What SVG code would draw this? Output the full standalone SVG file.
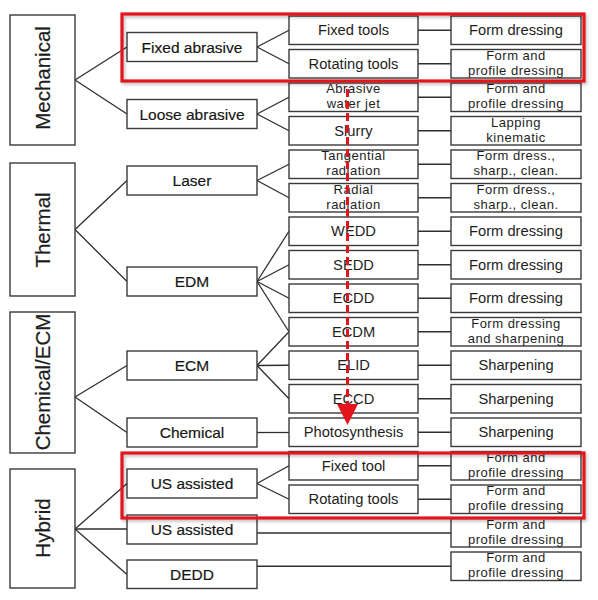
<svg xmlns="http://www.w3.org/2000/svg" width="598" height="600" viewBox="0 0 598 600">
<defs>
<style>
.box{fill:#fff;stroke:#3a3a3a;stroke-width:1.4}
.t{font-family:"Liberation Sans",Arial,sans-serif;fill:#1e1e1e;text-anchor:middle}
.l1{font-size:20.5px;stroke:#1e1e1e;stroke-width:0.2}
.l2{font-size:15.5px;fill:#161616;stroke:#161616;stroke-width:0.18}
.l3{font-size:14.7px}
.l4{font-size:13px;letter-spacing:0.5px}
.con line{stroke:#2e2e2e;stroke-width:1.3;fill:none}
.hl{fill:none;stroke:#e3141c;stroke-width:3.2}
</style>
<filter id="sh" x="-5%" y="-10%" width="110%" height="130%">
<feDropShadow dx="1.5" dy="2" stdDeviation="1.5" flood-color="#000" flood-opacity="0.25"/>
</filter>
</defs>
<rect width="598" height="600" fill="#fff"/>

<g id="connectors" class="con">
<line x1="75" y1="80" x2="127" y2="47"/>
<line x1="75" y1="80" x2="127" y2="114"/>
<line x1="75" y1="229.5" x2="127" y2="180.5"/>
<line x1="75" y1="229.5" x2="127" y2="281.5"/>
<line x1="75" y1="397" x2="127" y2="365.5"/>
<line x1="75" y1="397" x2="127" y2="432.5"/>
<line x1="75" y1="529" x2="127" y2="483.5"/>
<line x1="75" y1="529" x2="127" y2="529"/>
<line x1="75" y1="529" x2="127" y2="574.5"/>
<line x1="257" y1="47" x2="289" y2="30.25"/>
<line x1="257" y1="47" x2="289" y2="63.75"/>
<line x1="257" y1="114" x2="289" y2="97.25"/>
<line x1="257" y1="114" x2="289" y2="130.75"/>
<line x1="257" y1="180.5" x2="289" y2="164.25"/>
<line x1="257" y1="180.5" x2="289" y2="197.75"/>
<line x1="257" y1="281.5" x2="289" y2="231.25"/>
<line x1="257" y1="281.5" x2="289" y2="264.75"/>
<line x1="257" y1="281.5" x2="289" y2="298.25"/>
<line x1="257" y1="281.5" x2="289" y2="331.75"/>
<line x1="257" y1="365.5" x2="289" y2="331.75"/>
<line x1="257" y1="365.5" x2="289" y2="365.25"/>
<line x1="257" y1="365.5" x2="289" y2="398.75"/>
<line x1="257" y1="432.5" x2="289" y2="432.5"/>
<line x1="257" y1="483.5" x2="289" y2="465.75"/>
<line x1="257" y1="483.5" x2="289" y2="499.25"/>
<line x1="257" y1="533" x2="451" y2="533"/>
<line x1="257" y1="566.25" x2="451" y2="566.25"/>
<line x1="418" y1="30.25" x2="451" y2="30.25"/>
<line x1="418" y1="63.75" x2="451" y2="63.75"/>
<line x1="418" y1="97.25" x2="451" y2="97.25"/>
<line x1="418" y1="130.75" x2="451" y2="130.75"/>
<line x1="418" y1="164.25" x2="451" y2="164.25"/>
<line x1="418" y1="197.75" x2="451" y2="197.75"/>
<line x1="418" y1="231.25" x2="451" y2="231.25"/>
<line x1="418" y1="264.75" x2="451" y2="264.75"/>
<line x1="418" y1="298.25" x2="451" y2="298.25"/>
<line x1="418" y1="331.75" x2="451" y2="331.75"/>
<line x1="418" y1="365.25" x2="451" y2="365.25"/>
<line x1="418" y1="398.75" x2="451" y2="398.75"/>
<line x1="418" y1="432.25" x2="451" y2="432.25"/>
<line x1="418" y1="465.75" x2="451" y2="465.75"/>
<line x1="418" y1="499.25" x2="451" y2="499.25"/>
</g>

<!-- Level 1 -->
<g id="mechanical"><rect class="box" x="10" y="15" width="65" height="130"/><text class="t l1" transform="translate(50,78) rotate(-90)">Mechanical</text></g>
<g id="thermal"><rect class="box" x="10" y="163" width="65" height="133"/><text class="t l1" transform="translate(50,230) rotate(-90)">Thermal</text></g>
<g id="chemical-ecm"><rect class="box" x="10" y="312" width="65" height="141"/><text class="t l1" transform="translate(50,382) rotate(-90)">Chemical/ECM</text></g>
<g id="hybrid"><rect class="box" x="10" y="469" width="65" height="119"/><text class="t l1" transform="translate(50,528) rotate(-90)">Hybrid</text></g>

<!-- Level 2 -->
<g id="fixed-abrasive"><rect class="box" x="127" y="32.5" width="130" height="29"/><text class="t l2" x="192" y="52.5">Fixed abrasive</text></g>
<g id="loose-abrasive"><rect class="box" x="127" y="99.5" width="130" height="29"/><text class="t l2" x="192" y="119.5">Loose abrasive</text></g>
<g id="laser"><rect class="box" x="127" y="166" width="130" height="29"/><text class="t l2" x="192" y="186">Laser</text></g>
<g id="edm"><rect class="box" x="127" y="267" width="130" height="29"/><text class="t l2" x="192" y="287">EDM</text></g>
<g id="ecm"><rect class="box" x="127" y="351" width="130" height="29"/><text class="t l2" x="192" y="371">ECM</text></g>
<g id="chemical"><rect class="box" x="127" y="418" width="130" height="29"/><text class="t l2" x="192" y="438">Chemical</text></g>
<g id="us-assisted-1"><rect class="box" x="127" y="469" width="130" height="29"/><text class="t l2" x="192" y="489">US assisted</text></g>
<g id="us-assisted-2"><rect class="box" x="127" y="515" width="130" height="29"/><text class="t l2" x="192" y="535">US assisted</text></g>
<g id="dedd"><rect class="box" x="127" y="560" width="130" height="28.5"/><text class="t l2" x="192" y="580">DEDD</text></g>

<!-- Level 3 -->
<g id="fixed-tools"><rect class="box" x="289" y="16" width="129" height="28.5"/><text class="t l3" x="353.5" y="35.3">Fixed tools</text></g>
<g id="rotating-tools-1"><rect class="box" x="289" y="49.5" width="129" height="28.5"/><text class="t l3" x="353.5" y="68.8">Rotating tools</text></g>
<g id="abrasive-water-jet"><rect class="box" x="289" y="83" width="129" height="28.5"/><text class="t l4" x="353.5" y="93.2">Abrasive</text><text class="t l4" x="353.5" y="108.2">water jet</text></g>
<g id="slurry"><rect class="box" x="289" y="116.5" width="129" height="28.5"/><text class="t l3" x="353.5" y="135.8">Slurry</text></g>
<g id="tangential-radiation"><rect class="box" x="289" y="150" width="129" height="28.5"/><text class="t l4" x="353.5" y="160.2">Tangential</text><text class="t l4" x="353.5" y="175.2">radiation</text></g>
<g id="radial-radiation"><rect class="box" x="289" y="183.5" width="129" height="28.5"/><text class="t l4" x="353.5" y="193.7">Radial</text><text class="t l4" x="353.5" y="208.7">radiation</text></g>
<g id="wedd"><rect class="box" x="289" y="217" width="129" height="28.5"/><text class="t l3" x="353.5" y="236.3">WEDD</text></g>
<g id="sedd"><rect class="box" x="289" y="250.5" width="129" height="28.5"/><text class="t l3" x="353.5" y="269.8">SEDD</text></g>
<g id="ecdd"><rect class="box" x="289" y="284" width="129" height="28.5"/><text class="t l3" x="353.5" y="303.3">ECDD</text></g>
<g id="ecdm"><rect class="box" x="289" y="317.5" width="129" height="28.5"/><text class="t l3" x="353.5" y="336.8">ECDM</text></g>
<g id="elid"><rect class="box" x="289" y="351" width="129" height="28.5"/><text class="t l3" x="353.5" y="370.3">ELID</text></g>
<g id="eccd"><rect class="box" x="289" y="384.5" width="129" height="28.5"/><text class="t l3" x="353.5" y="403.8">ECCD</text></g>
<g id="photosynthesis"><rect class="box" x="289" y="418" width="129" height="28.5"/><text class="t l3" x="353.5" y="437.3">Photosynthesis</text></g>
<g id="fixed-tool"><rect class="box" x="289" y="451.5" width="129" height="28.5"/><text class="t l3" x="353.5" y="470.8">Fixed tool</text></g>
<g id="rotating-tools-2"><rect class="box" x="289" y="485" width="129" height="28.5"/><text class="t l3" x="353.5" y="504.3">Rotating tools</text></g>

<!-- Level 4 -->
<g id="r0"><rect class="box" x="451" y="16" width="130" height="28.5"/><text class="t l3" x="516" y="35.3">Form dressing</text></g>
<g id="r1"><rect class="box" x="451" y="49.5" width="130" height="28.5"/><text class="t l4" x="516" y="59.7">Form and</text><text class="t l4" x="516" y="74.7">profile dressing</text></g>
<g id="r2"><rect class="box" x="451" y="83" width="130" height="28.5"/><text class="t l4" x="516" y="93.2">Form and</text><text class="t l4" x="516" y="108.2">profile dressing</text></g>
<g id="r3"><rect class="box" x="451" y="116.5" width="130" height="28.5"/><text class="t l4" x="516" y="126.7">Lapping</text><text class="t l4" x="516" y="141.7">kinematic</text></g>
<g id="r4"><rect class="box" x="451" y="150" width="130" height="28.5"/><text class="t l4" x="516" y="160.2">Form dress.,</text><text class="t l4" x="516" y="175.2">sharp., clean.</text></g>
<g id="r5"><rect class="box" x="451" y="183.5" width="130" height="28.5"/><text class="t l4" x="516" y="193.7">Form dress.,</text><text class="t l4" x="516" y="208.7">sharp., clean.</text></g>
<g id="r6"><rect class="box" x="451" y="217" width="130" height="28.5"/><text class="t l3" x="516" y="236.3">Form dressing</text></g>
<g id="r7"><rect class="box" x="451" y="250.5" width="130" height="28.5"/><text class="t l3" x="516" y="269.8">Form dressing</text></g>
<g id="r8"><rect class="box" x="451" y="284" width="130" height="28.5"/><text class="t l3" x="516" y="303.3">Form dressing</text></g>
<g id="r9"><rect class="box" x="451" y="317.5" width="130" height="28.5"/><text class="t l4" x="516" y="327.7">Form dressing</text><text class="t l4" x="516" y="342.7">and sharpening</text></g>
<g id="r10"><rect class="box" x="451" y="351" width="130" height="28.5"/><text class="t l3" x="516" y="370.3">Sharpening</text></g>
<g id="r11"><rect class="box" x="451" y="384.5" width="130" height="28.5"/><text class="t l3" x="516" y="403.8">Sharpening</text></g>
<g id="r12"><rect class="box" x="451" y="418" width="130" height="28.5"/><text class="t l3" x="516" y="437.3">Sharpening</text></g>
<g id="r13"><rect class="box" x="451" y="451.5" width="130" height="28.5"/><text class="t l4" x="516" y="461.7">Form and</text><text class="t l4" x="516" y="476.7">profile dressing</text></g>
<g id="r14"><rect class="box" x="451" y="485" width="130" height="28.5"/><text class="t l4" x="516" y="495.2">Form and</text><text class="t l4" x="516" y="510.2">profile dressing</text></g>
<g id="r15"><rect class="box" x="451" y="518.5" width="130" height="28.5"/><text class="t l4" x="516" y="528.7">Form and</text><text class="t l4" x="516" y="543.7">profile dressing</text></g>
<g id="r16"><rect class="box" x="451" y="552" width="130" height="28.5"/><text class="t l4" x="516" y="562.2">Form and</text><text class="t l4" x="516" y="577.2">profile dressing</text></g>

<!-- Highlights -->
<g id="highlights">
<rect class="hl" filter="url(#sh)" x="122" y="14" width="462" height="67"/>
<rect class="hl" filter="url(#sh)" x="122" y="453" width="462" height="65"/>
</g>
<g id="red-arrow">
<line x1="347.5" y1="89" x2="347.5" y2="406" stroke="#e3141c" stroke-width="3" stroke-dasharray="8 4"/>
<polygon points="337,404 358,404 347.5,425" fill="#e3141c"/>
</g>
</svg>
